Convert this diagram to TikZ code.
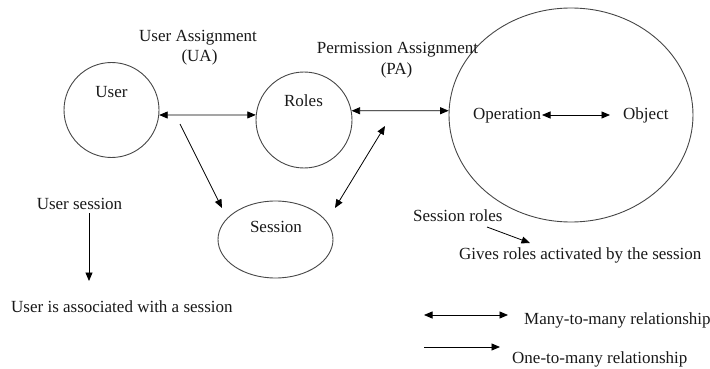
\documentclass[tikz,border=0pt]{standalone}
\usepackage{fontspec}
\setmainfont{Liberation Serif}
\usetikzlibrary{arrows.meta,shapes.geometric}
\begin{document}
\begin{tikzpicture}[x=1pt,y=-1pt,
  shp/.style={draw=black!72,line width=0.9pt,inner sep=0pt},
  txt/.style={font=\fontsize{17}{20}\selectfont,inner sep=0pt,text=black!90},
  ln/.style={line width=0.8pt,draw=black},
  tip/.style={ln,-{Triangle[length=8.5pt,width=7pt]}},
  dtip/.style={ln,{Triangle[length=8.5pt,width=7pt]}-{Triangle[length=8.5pt,width=7pt]}}]
\useasboundingbox (0,0) rectangle (710,369);
% shapes
\node[shp,circle,minimum size=95pt] (user) at (111.5,110) {};
\node[shp,circle,minimum size=96pt] (roles) at (304,120) {};
\node[shp,ellipse,minimum width=115pt,minimum height=77pt] (session) at (275.5,239.5) {};
\node[shp,ellipse,minimum width=244pt,minimum height=214pt] (perm) at (571,115) {};
% texts
\node[txt,anchor=base] (tuser) at (111.5,97.5) {User};
\node[txt,anchor=base] (troles) at (303.5,106.5) {Roles};
\node[txt,anchor=base] (tsession) at (276,232.5) {Session};
\node[txt,anchor=base] (ua1) at (198,42) {User Assignment};
\node[txt,anchor=base] (ua2) at (199.5,62) {(UA)};
\node[txt,anchor=base] (pa1) at (397.5,54) {Permission Assignment};
\node[txt,anchor=base] (pa2) at (396.5,75) {(PA)};
\node[txt,anchor=base west] (op) at (473,120) {Operation};
\node[txt,anchor=base west] (obj) at (623,120) {Object};
\node[txt,anchor=base] (usess) at (79.5,209.5) {User session};
\node[txt,anchor=base west] (uassoc) at (11,312.5) {User is associated with a session};
\node[txt,anchor=base west] (sroles) at (413,221) {Session roles};
\node[txt,anchor=base west] (gives) at (459,259.5) {Gives roles activated by the session};
\node[txt,anchor=base west] (many) at (524,324.5) {Many-to-many relationship};
\node[txt,anchor=base west] (one) at (512,363.5) {One-to-many relationship};
% free ends
\coordinate (us0) at (180,124);
\coordinate (us1) at (222,208);
\coordinate (sp0) at (335,208);
\coordinate (sp1) at (385,126);
\coordinate (opE) at (542,115);
\coordinate (objW) at (610,115);
\coordinate (ua0) at (89,213);
\coordinate (ua1e) at (89,281);
\coordinate (sr0) at (487,227);
\coordinate (sr1) at (530,243);
\coordinate (lm0) at (424,315);
\coordinate (lm1) at (508,315);
\coordinate (lo0) at (424,347);
\coordinate (lo1) at (500,347);
% connectors
\draw[dtip] (user.-6) -- (roles.174);
\draw[dtip] (roles.11) -- (perm.178);
\draw[tip] (us0) -- (us1);
\draw[dtip] (sp0) -- (sp1);
\draw[dtip] (opE) -- (objW);
\draw[tip] (ua0) -- (ua1e);
\draw[tip] (sr0) -- (sr1);
\draw[dtip] (lm0) -- (lm1);
\draw[tip] (lo0) -- (lo1);
\end{tikzpicture}
\end{document}
